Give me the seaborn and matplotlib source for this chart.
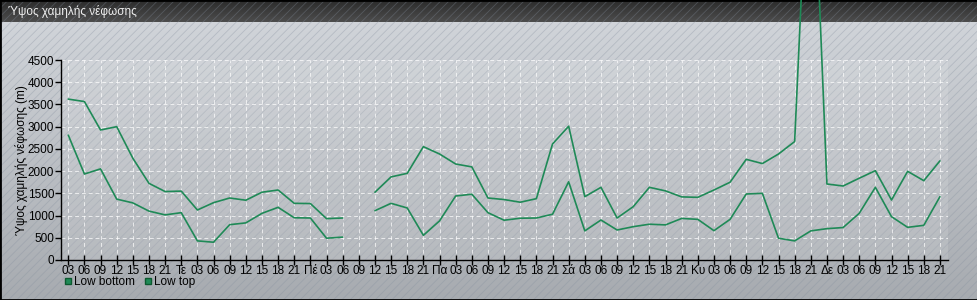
import numpy as np
import pandas as pd
import matplotlib
matplotlib.use("Agg")
import matplotlib.pyplot as plt
from matplotlib.patches import Rectangle
from matplotlib.lines import Line2D
import seaborn as sns

title = "Ύψος χαμηλής νέφωσης"
ylabel = "Ύψος χαμηλής νέφωσης (m)"
series_names = ["Low bottom", "Low top"]

hours = ["03", "06", "09", "12", "15", "18", "21"]
days = ["Τε", "Πέ", "Πα", "Σά", "Κυ", "Δε"]
x_labels = list(hours)
for d in days:
    x_labels += [d] + hours

nan = np.nan
low_bottom = [2810, 1935, 2050, 1370, 1285, 1100, 1015, 1065, 430, 400,
              795, 835, 1050, 1185, 950, 945, 490, 515, nan, 1110,
              1275, 1170, 555, 880, 1440, 1480, 1065, 895, 940, 945,
              1030, 1760, 655, 900, 675, 750, 805, 790, 935, 915,
              660, 915, 1485, 1500, 490, 430, 655, 705, 730, 1050,
              1635, 975, 735, 780, 1425]
low_top = [3620, 3565, 2925, 3000, 2290, 1725, 1540, 1550, 1125, 1290,
           1395, 1345, 1525, 1575, 1275, 1270, 930, 945, nan, 1525,
           1870, 1950, 2550, 2385, 2160, 2095, 1395, 1360, 1300, 1380,
           2610, 3010, 1425, 1635, 945, 1200, 1635, 1555, 1420, 1410,
           1575, 1750, 2265, 2170, 2385, 2665, 10600, 1710, 1665, 1840,
           2010, 1350, 1995, 1785, 2230]

rows = []
for name, vals in zip(series_names, [low_bottom, low_top]):
    seg = 0
    for i, v in enumerate(vals):
        if np.isnan(v):
            seg += 1
            continue
        rows.append({"i": i, "value": v, "series": name, "seg": seg})
df = pd.DataFrame(rows)

sns.set_theme(style="white")
plt.rcParams['font.family'] = ['Liberation Sans', 'DejaVu Sans']
plt.rcParams['hatch.linewidth'] = 0.6
plt.rcParams['text.color'] = 'black'
plt.rcParams['xtick.color'] = 'black'
plt.rcParams['ytick.color'] = 'black'
plt.rcParams['axes.labelcolor'] = 'black'

W, H = 978, 300
fig = plt.figure(figsize=(W / 100, H / 100), dpi=100)

# background
bg = fig.add_axes([0, 0, 1, 1])
bg.set_zorder(-5)
grad = np.linspace(0, 1, 256).reshape(-1, 1)
c_top = np.array([0.83, 0.845, 0.865])
c_bot = np.array([0.655, 0.67, 0.69])
img = c_top[None, None, :] * (1 - grad[:, :, None]) + c_bot[None, None, :] * grad[:, :, None]
bg.imshow(img, extent=[0, 1, 0, 1], aspect='auto', origin='upper')
bg.add_patch(Rectangle((0, 0), 1, 1, facecolor='none', edgecolor=(0.52, 0.56, 0.62, 0.35),
                       hatch='////', linewidth=0))
# title bar
tb = np.linspace(0, 1, 32).reshape(-1, 1)
t_top = np.array([0.17, 0.17, 0.17])
t_bot = np.array([0.30, 0.30, 0.30])
timg = t_top[None, None, :] * (1 - tb[:, :, None]) + t_bot[None, None, :] * tb[:, :, None]
bg.imshow(timg, extent=[0, 1, 1 - 22 / H, 1], aspect='auto', origin='upper')
bg.add_patch(Rectangle((0, 0), 1, 1, facecolor='none', edgecolor='black', linewidth=2))
bg.set_xlim(0, 1)
bg.set_ylim(0, 1)
bg.axis('off')
fig.text(8 / W, 1 - 11 / H, title, color='#f0f0f0', fontsize=8.5, va='center', ha='left')

# main axes
L, R, T, B = 61, 948, 60, 260
ax = fig.add_axes([L / W, 1 - B / H, (R - L) / W, (B - T) / H])
ax.set_facecolor((1, 1, 1, 0.12))

green = "#1f8a57"
sns.lineplot(data=df, x="i", y="value", hue="series", units="seg", estimator=None,
             palette=[green, green], linewidth=1.2, ax=ax, legend=False)
for ln in ax.lines:
    ln.set_clip_on(False)

ax.set_xlim(-0.45, 54.5)
ax.set_ylim(0, 4500)
ax.set_yticks(np.arange(0, 4501, 500))
ax.set_xticks(range(len(x_labels)))
ax.set_xticklabels(x_labels)
ax.grid(True, color='white', linestyle=(0, (4, 3)), linewidth=0.7, alpha=0.7)
ax.set_axisbelow(True)
for s in ['top', 'right']:
    ax.spines[s].set_visible(False)
for s in ['left', 'bottom']:
    ax.spines[s].set_color('black')
    ax.spines[s].set_linewidth(1)
ax.tick_params(axis='y', direction='out', length=4, width=1, color='black',
               labelsize=8.5, pad=1, left=True)
ax.tick_params(axis='x', direction='inout', length=7, width=1, color='black',
               labelsize=8.5, pad=0, bottom=True)
ax.set_xlabel("")
ax.set_ylabel(ylabel, fontsize=8.5, labelpad=2)
ax.yaxis.set_label_coords(-(L - 28) / (R - L), 0.5)

handles = [Line2D([], [], marker='s', linestyle='none', markersize=5, markerfacecolor=green,
                  markeredgecolor='#0c5a30') for _ in series_names]
fig.legend(handles, series_names, loc='center left', bbox_to_anchor=(56 / W, 1 - 282 / H),
           ncol=2, frameon=False, fontsize=8.5, handletextpad=0.0, columnspacing=0.6,
           borderpad=0, handlelength=1.0)

fig.savefig("out.png", dpi=100)
